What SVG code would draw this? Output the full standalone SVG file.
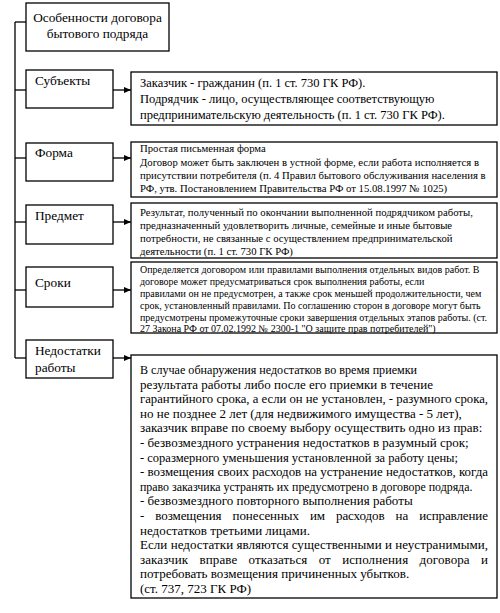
<svg xmlns="http://www.w3.org/2000/svg" width="500" height="613" viewBox="0 0 500 613">
<style>
.box{fill:#fff;stroke:#000;stroke-width:1.3}
.ln{fill:none;stroke:#000;stroke-width:1.3}
text{font-family:"Liberation Serif",Tinos,"Times New Roman","DejaVu Serif",serif;fill:#000}
.lab{font-size:13.3px}
.m{font-size:12.5px}
.s{font-size:10.7px}
.xs{font-size:10px}
.b{font-size:13px}
</style>
<defs>
<marker id="arr" markerWidth="8" markerHeight="8" refX="7" refY="4" orient="auto" markerUnits="userSpaceOnUse">
<path d="M0,1 L7,4 L0,7 Z" fill="#000"/>
</marker>
</defs>
<rect width="500" height="613" fill="#fff"/>
<g id="connectors">
<path class="ln" d="M15,22 V358"/>
<path class="ln" d="M15,22 H26"/>
<path class="ln" d="M15,90 H26"/>
<path class="ln" d="M15,158 H26"/>
<path class="ln" d="M15,222 H26"/>
<path class="ln" d="M15,290 H26"/>
<path class="ln" d="M15,358 H26"/>
<path class="ln" d="M113,90 H131" marker-end="url(#arr)"/>
<path class="ln" d="M113,158 H131" marker-end="url(#arr)"/>
<path class="ln" d="M113,222 H131" marker-end="url(#arr)"/>
<path class="ln" d="M113,290 H131" marker-end="url(#arr)"/>
<path class="ln" d="M113,358 H131" marker-end="url(#arr)"/>
</g>
<g id="root">
<rect class="box" x="26" y="3" width="143" height="48"/>
<text class="lab" x="97.5" y="22" text-anchor="middle">Особенности договора</text>
<text class="lab" x="97.5" y="38" text-anchor="middle">бытового подряда</text>
</g>
<g id="subjects">
<rect class="box" x="26" y="70" width="87" height="38"/>
<text class="lab" x="35" y="85">Субъекты</text>
</g>
<g id="subjects-text">
<rect class="box" x="131" y="72" width="366" height="53"/>
<text class="m" x="140" y="87">Заказчик - гражданин (п. 1 ст. 730 ГК РФ).</text>
<text class="m" x="140" y="103">Подрядчик - лицо, осуществляющее соответствующую</text>
<text class="m" x="140" y="119">предпринимательскую деятельность (п. 1 ст. 730 ГК РФ).</text>
</g>
<g id="form">
<rect class="box" x="26" y="143" width="87" height="38"/>
<text class="lab" x="35" y="157">Форма</text>
</g>
<g id="form-text">
<rect class="box" x="131" y="142" width="366" height="55"/>
<text class="s" x="140" y="152">Простая письменная форма</text>
<text class="s" x="140" y="166">Договор может быть заключен в устной форме, если работа исполняется в</text>
<text class="s" x="140" y="179">присутствии потребителя (п. 4 Правил бытового обслуживания населения в</text>
<text class="s" x="140" y="192">РФ, утв. Постановлением Правительства РФ от 15.08.1997 № 1025)</text>
</g>
<g id="subject">
<rect class="box" x="26" y="205" width="87" height="39"/>
<text class="lab" x="35" y="220">Предмет</text>
</g>
<g id="subject-text">
<rect class="box" x="131" y="203" width="366" height="55"/>
<text class="s" x="140" y="216">Результат, полученный по окончании выполненной подрядчиком работы,</text>
<text class="s" x="140" y="229">предназначенный удовлетворить личные, семейные и иные бытовые</text>
<text class="s" x="140" y="242">потребности, не связанные с осуществлением предпринимательской</text>
<text class="s" x="140" y="255">деятельности (п. 1 ст. 730 ГК РФ)</text>
</g>
<g id="terms">
<rect class="box" x="26" y="267" width="87" height="40"/>
<text class="lab" x="35" y="287">Сроки</text>
</g>
<g id="terms-text">
<rect class="box" x="131" y="262" width="366" height="71"/>
<text class="xs" x="140" y="273">Определяется договором или правилами выполнения отдельных видов работ. В</text>
<text class="xs" x="140" y="285">договоре может предусматриваться срок выполнения работы, если</text>
<text class="xs" x="140" y="297">правилами он не предусмотрен, а также срок меньшей продолжительности, чем</text>
<text class="xs" x="140" y="309">срок, установленный правилами. По соглашению сторон в договоре могут быть</text>
<text class="xs" x="140" y="321">предусмотрены промежуточные сроки завершения отдельных этапов работы. (ст.</text>
<text class="xs" x="140" y="332">27 Закона РФ от 07.02.1992 № 2300-1 "О защите прав потребителей")</text>
</g>
<g id="defects">
<rect class="box" x="26" y="340" width="87" height="38"/>
<text class="lab" x="35" y="355">Недостатки</text>
<text class="lab" x="35" y="372">работы</text>
</g>
<g id="defects-text">
<rect class="box" x="131" y="355" width="366" height="243"/>
<text class="b" x="140" y="374" textLength="277" lengthAdjust="spacingAndGlyphs">В случае обнаружения недостатков во время приемки</text>
<text class="b" x="140" y="388.6">результата работы либо после его приемки в течение</text>
<text class="b" x="140" y="403.2" textLength="348" lengthAdjust="spacingAndGlyphs">гарантийного срока, а если он не установлен, - разумного срока,</text>
<text class="b" x="140" y="417.8">но не позднее 2 лет (для недвижимого имущества - 5 лет),</text>
<text class="b" x="140" y="432.4">заказчик вправе по своему выбору осуществить одно из прав:</text>
<text class="b" x="140" y="447">- безвозмездного устранения недостатков в разумный срок;</text>
<text class="b" x="140" y="461.6" textLength="318" lengthAdjust="spacingAndGlyphs">- соразмерного уменьшения установленной за работу цены;</text>
<text class="b" x="140" y="476.2" textLength="348" lengthAdjust="spacingAndGlyphs">- возмещения своих расходов на устранение недостатков, когда</text>
<text x="140" y="490.8" style="font-size:11.9px">право заказчика устранять их предусмотрено в договоре подряда.</text>
<text class="b" x="140" y="505.4">- безвозмездного повторного выполнения работы</text>
<text class="b" x="140" y="520" textLength="348" lengthAdjust="spacing" word-spacing="8">- возмещения понесенных им расходов на исправление</text>
<text class="b" x="140" y="534.6">недостатков третьими лицами.</text>
<text class="b" x="140" y="549.2" textLength="348" lengthAdjust="spacing">Если недостатки являются существенными и неустранимыми,</text>
<text class="b" x="140" y="563.8" textLength="348" lengthAdjust="spacing" word-spacing="8">заказчик вправе отказаться от исполнения договора и</text>
<text class="b" x="140" y="578.4">потребовать возмещения причиненных убытков.</text>
<text class="b" x="140" y="593">(ст. 737, 723 ГК РФ)</text>
</g>
</svg>
